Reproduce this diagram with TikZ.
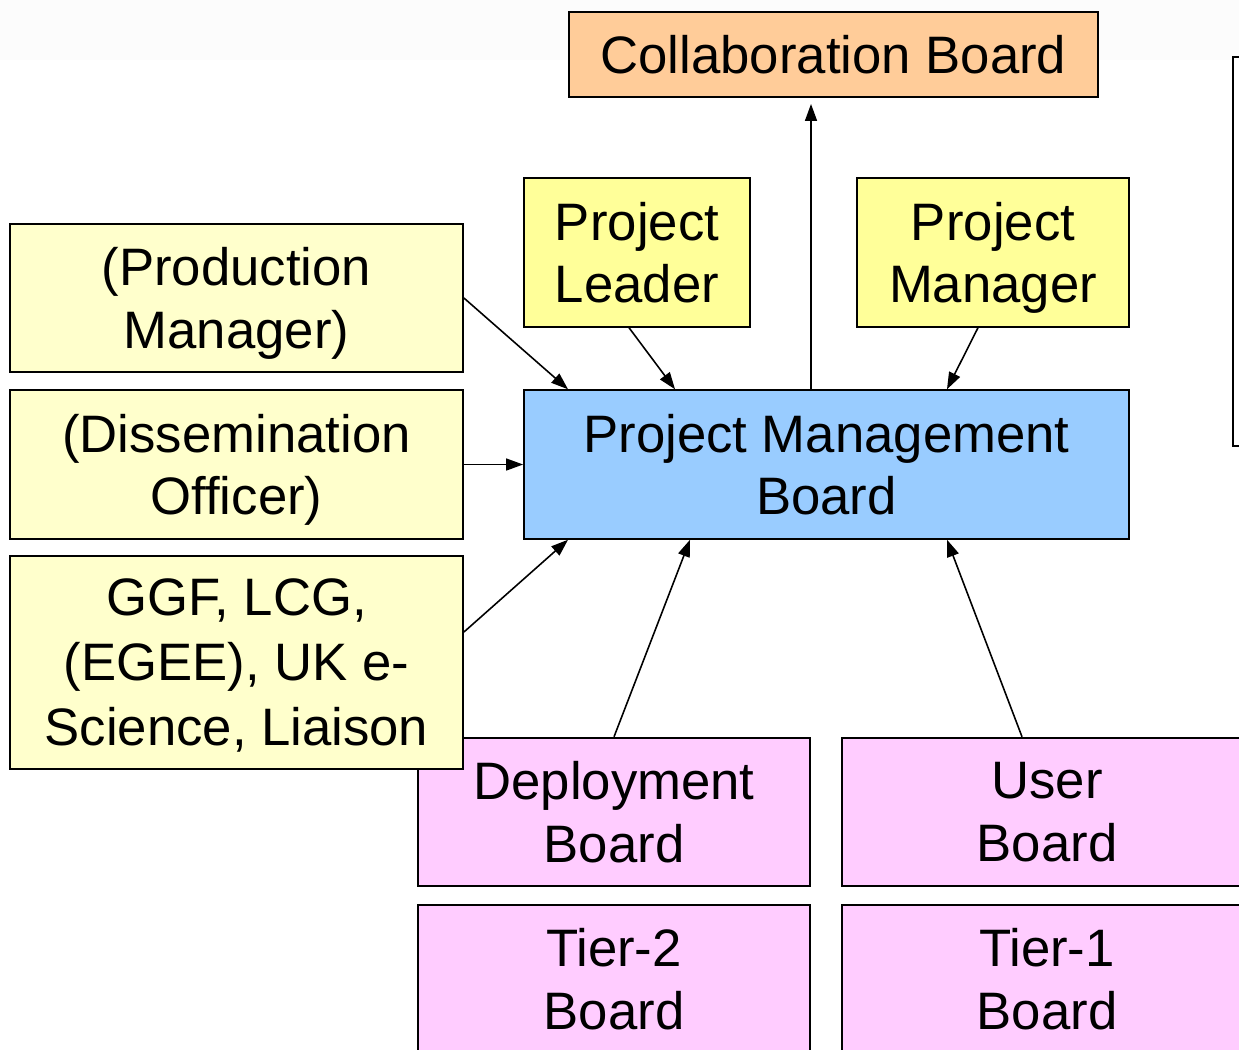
\documentclass[tikz,border=0pt]{standalone}
\usepackage{fontspec}
\setmainfont{Liberation Sans}
\usetikzlibrary{arrows.meta}

\definecolor{peach}{HTML}{FFCC99}
\definecolor{lemon}{HTML}{FFFF99}
\definecolor{cream}{HTML}{FFFFCC}
\definecolor{sky}{HTML}{99CCFF}
\definecolor{lilac}{HTML}{FFCCFF}

\begin{document}
\begin{tikzpicture}[x=0.02cm,y=-0.02cm,
    box/.style={draw,line width=1.1pt,align=center,inner sep=0pt,text depth=0pt,
      font=\fontsize{30}{35.6}\selectfont},
    arr/.style={line width=0.9pt,-{Triangle[length=0.34cm,width=0.24cm]}}]
        % Dimensioni
        \def\hb{2.97cm}    % altezza di ogni blocco
        \def\wl{9.06cm}    % larghezza colonna sinistra
        
        % Area visibile e fascia in alto
        \clip (0,0) rectangle (1239,1049);
        \fill[black!1] (0,0) rectangle (1239,60);
        \draw[line width=1.1pt,fill=white] (1233,57) rectangle (1300,446);
        
        % Blocchi in alto
        \node[box,fill=peach,minimum width=10.58cm,minimum height=1.70cm] (collab) at (833.5,54.5) {Collaboration Board};
        \node[box,fill=lemon,minimum width=4.52cm,minimum height=\hb] (leader) at (637,252.5) {Project\\Leader};
        \node[box,fill=lemon,minimum width=5.44cm,minimum height=\hb] (manager) at (993,252.5) {Project\\Manager};
        
        % Blocco centrale
        \node[box,fill=sky,minimum width=12.10cm,minimum height=\hb] (pmb) at (826.5,464.5) {Project Management\\Board};
        
        % Blocchi in basso
        \node[box,fill=lilac,minimum width=7.84cm,minimum height=\hb] (deploy) at (614,812) {Deployment\\Board};
        \node[box,fill=lilac,minimum width=8.20cm,minimum height=\hb] (user) at (1047,812) {User\\Board};
        \node[box,fill=lilac,minimum width=7.84cm,minimum height=\hb] (tiertwo) at (614,979) {Tier-2\\Board};
        \node[box,fill=lilac,minimum width=8.20cm,minimum height=\hb] (tierone) at (1047,979) {Tier-1\\Board};
        
        % Colonna sinistra
        \node[box,fill=cream,minimum width=\wl,minimum height=\hb] (prodmgr) at (236.5,298) {(Production\\Manager)};
        \node[box,fill=cream,minimum width=\wl,minimum height=\hb] (dissem) at (236.5,464.5) {(Dissemination\\Officer)};
        \node[box,fill=cream,minimum width=\wl,minimum height=4.26cm,font=\fontsize{30}{37}\selectfont] (liaison) at (236.5,662.5) {GGF, LCG,\\(EGEE), UK e-\\Science, Liaison};
        
        % Frecce
        \draw[arr] (prodmgr.east) -- ([xshift=-5.17cm]pmb.north);
        \draw[arr] ([xshift=-0.16cm]leader.south) -- ([xshift=-3.03cm]pmb.north);
        \draw[arr] ([xshift=-0.30cm]manager.south) -- ([xshift=2.41cm]pmb.north);
        \draw[arr] (dissem.east) -- (pmb.west);
        \draw[arr] ([yshift=0.61cm]liaison.east) -- ([xshift=-5.17cm]pmb.south);
        \draw[arr] (deploy.north) -- ([xshift=-2.73cm]pmb.south);
        \draw[arr] ([xshift=-0.50cm]user.north) -- ([xshift=2.41cm]pmb.south);
        \coordinate (up) at ([xshift=-0.31cm]pmb.north);
        \draw[arr,shorten >=0.12cm] (up) -- (up |- collab.south);
    
    \end{tikzpicture}
\end{document}
